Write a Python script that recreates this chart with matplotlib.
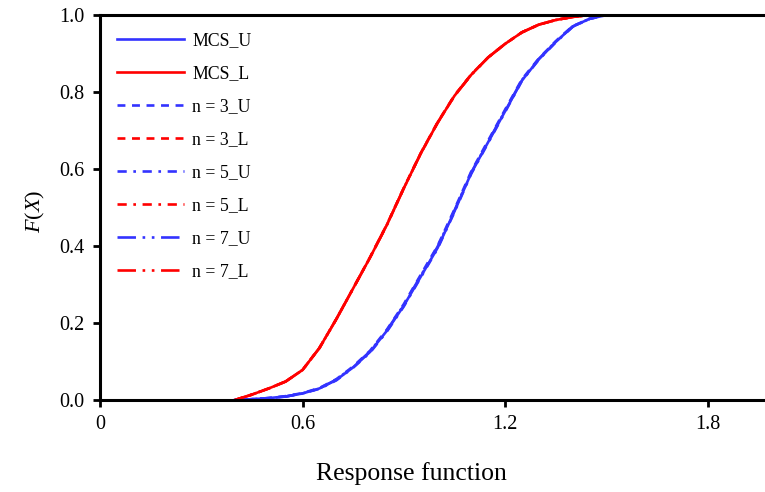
import matplotlib
matplotlib.use("Agg")
import matplotlib.pyplot as plt

plt.rcParams['font.family'] = ['Liberation Serif', 'DejaVu Serif']
plt.rcParams['mathtext.fontset'] = 'custom'
plt.rcParams['mathtext.it'] = 'Liberation Serif:italic'
plt.rcParams['mathtext.rm'] = 'Liberation Serif'

# response values
x = [0.40, 0.45, 0.50, 0.55, 0.60, 0.65, 0.70, 0.75, 0.80, 0.85, 0.90, 0.95,
     1.00, 1.05, 1.10, 1.15, 1.20, 1.25, 1.30, 1.35, 1.40, 1.45, 1.50, 2.00]

# upper / lower CDF bounds
mcs_u = [0.0, 0.002, 0.005, 0.009, 0.017, 0.030, 0.052, 0.085, 0.125, 0.18, 0.245, 0.32,
         0.395, 0.49, 0.59, 0.67, 0.75, 0.83, 0.885, 0.93, 0.97, 0.99, 1.0, 1.0]
mcs_l = [0.0, 0.014, 0.030, 0.048, 0.078, 0.135, 0.21, 0.29, 0.37, 0.455, 0.55, 0.64,
         0.72, 0.79, 0.845, 0.89, 0.925, 0.955, 0.975, 0.987, 0.995, 1.0, 1.0, 1.0]
n3_u = [0.0, 0.002, 0.005, 0.010, 0.018, 0.031, 0.054, 0.087, 0.128, 0.183, 0.249, 0.325,
        0.40, 0.495, 0.594, 0.674, 0.754, 0.833, 0.887, 0.932, 0.971, 0.99, 1.0, 1.0]
n3_l = [0.0, 0.014, 0.030, 0.048, 0.078, 0.135, 0.21, 0.29, 0.371, 0.456, 0.551, 0.641,
        0.721, 0.791, 0.846, 0.89, 0.925, 0.955, 0.975, 0.987, 0.995, 1.0, 1.0, 1.0]
n5_u = [0.0, 0.002, 0.005, 0.009, 0.017, 0.029, 0.051, 0.084, 0.123, 0.178, 0.243, 0.318,
        0.393, 0.488, 0.588, 0.668, 0.748, 0.829, 0.884, 0.929, 0.969, 0.99, 1.0, 1.0]
n5_l = [0.0, 0.014, 0.030, 0.048, 0.078, 0.135, 0.21, 0.29, 0.37, 0.455, 0.55, 0.64,
        0.72, 0.79, 0.845, 0.89, 0.925, 0.955, 0.975, 0.987, 0.995, 1.0, 1.0, 1.0]
n7_u = [0.0, 0.002, 0.005, 0.009, 0.017, 0.030, 0.053, 0.086, 0.126, 0.181, 0.247, 0.322,
        0.398, 0.492, 0.591, 0.671, 0.751, 0.831, 0.886, 0.931, 0.97, 0.99, 1.0, 1.0]
n7_l = [0.0, 0.014, 0.030, 0.048, 0.078, 0.135, 0.21, 0.29, 0.37, 0.455, 0.55, 0.64,
        0.72, 0.79, 0.845, 0.89, 0.925, 0.955, 0.975, 0.987, 0.995, 1.0, 1.0, 1.0]

blue = '#3333ff'
red = '#ff0000'
lw = 1.9

fig = plt.figure(figsize=(7.65, 4.92), dpi=100)
ax = fig.add_axes([0.1307, 0.187, 0.8693, 0.7825])

ax.plot(x, mcs_u, color=blue, lw=lw, label='MCS_U')
ax.plot(x, mcs_l, color=red, lw=lw, label='MCS_L')
ax.plot(x, n3_u, color=blue, lw=lw, dashes=(3, 2.5), label='n = 3_U')
ax.plot(x, n3_l, color=red, lw=lw, dashes=(3, 2.5), label='n = 3_L')
ax.plot(x, n5_u, color=blue, lw=lw, dashes=(3.5, 2.5, 1, 2.5), label='n = 5_U')
ax.plot(x, n5_l, color=red, lw=lw, dashes=(3.5, 2.5, 1, 2.5), label='n = 5_L')
ax.plot(x, n7_u, color=blue, lw=lw, dashes=(7, 2.5, 1, 2.5, 1, 2.5), label='n = 7_U')
ax.plot(x, n7_l, color=red, lw=lw, dashes=(7, 2.5, 1, 2.5, 1, 2.5), label='n = 7_L')

ax.set_xlim(0, 1.97)
ax.set_ylim(0, 1.0)
ax.set_xticks([0, 0.6, 1.2, 1.8])
ax.set_xticklabels(['0', '0.6', '1.2', '1.8'])
ax.set_yticks([0, 0.2, 0.4, 0.6, 0.8, 1.0])
ax.set_yticklabels(['0.0', '0.2', '0.4', '0.6', '0.8', '1.0'])
ax.tick_params(direction='out', length=5, width=2, labelsize=14.5, pad=6)

for side in ['left', 'bottom', 'top']:
    ax.spines[side].set_linewidth(2.2)
ax.spines['right'].set_visible(False)

ax.set_xlabel('Response function', fontsize=18.5)
ax.xaxis.set_label_coords(0.469, -0.16)
ax.set_ylabel('$F$($X$)', fontsize=16)
ax.yaxis.set_label_coords(-0.08, 0.49)

ax.legend(loc='upper left', bbox_to_anchor=(0.0, 1.0), frameon=False, fontsize=12.8,
          handlelength=3.8, handletextpad=0.45, labelspacing=0.9, borderaxespad=0.55)

fig.savefig('out.png', dpi=100)
